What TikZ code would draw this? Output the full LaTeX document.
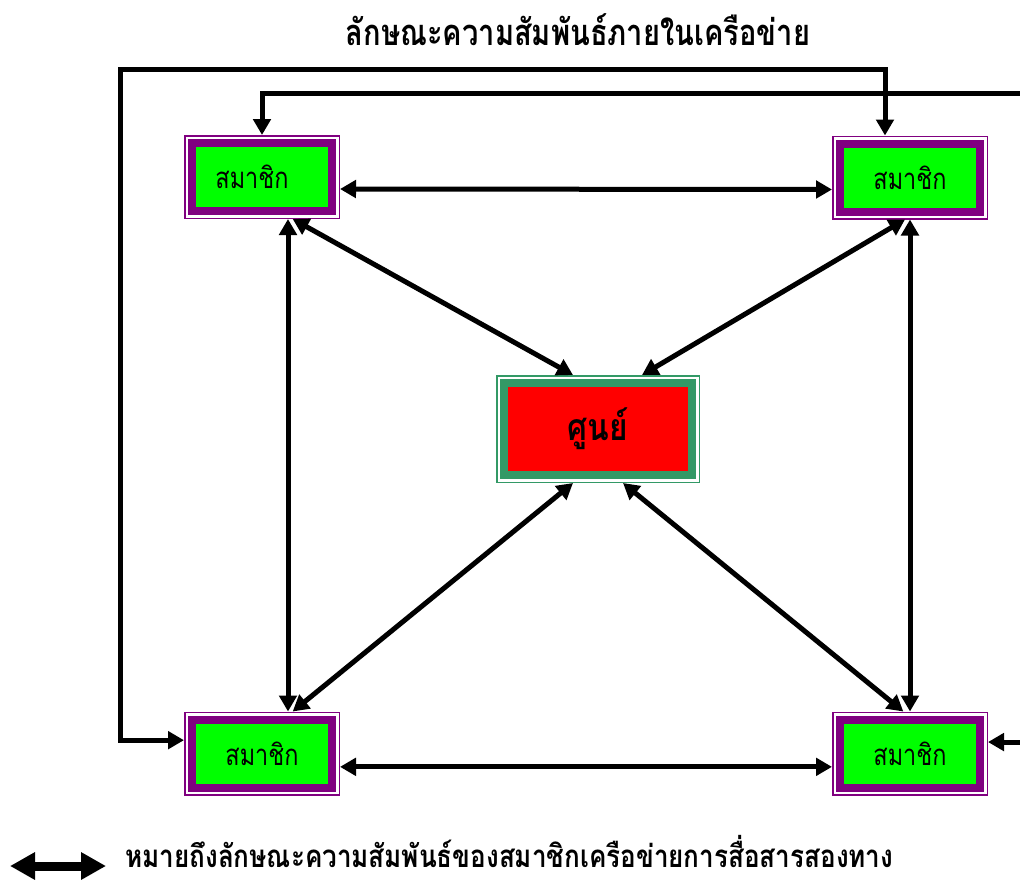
\documentclass[tikz,border=0pt]{standalone}
\usepackage{fontspec}
\newfontfamily\thaifont[Script=Thai]{Loma}
\usetikzlibrary{arrows.meta}
\definecolor{mpurple}{HTML}{800080}
\definecolor{mgreen}{HTML}{00FF00}
\definecolor{cgreen}{HTML}{339966}
\definecolor{cred}{HTML}{FF0000}
\newcommand\memtext[1]{\scalebox{0.8}[1]{#1}}
\newcommand\ctrtext[1]{\scalebox{0.85}[1]{#1}}
\begin{document}
\begin{tikzpicture}[x=0.75pt,y=-0.75pt,
  member/.style={rectangle, inner sep=0pt, minimum width=105pt, minimum height=51pt,
    fill=mgreen, draw=mpurple, line width=6pt, outer sep=6pt,
    preaction={draw=mpurple, line width=12pt},
    preaction={draw=white, line width=9.75pt},
    font=\thaifont\fontsize{22}{26}\selectfont},
  centre/.style={rectangle, inner sep=0pt, minimum width=141pt, minimum height=69pt,
    fill=cred, draw=cgreen, line width=6pt, outer sep=6pt,
    preaction={draw=cgreen, line width=12pt},
    preaction={draw=white, line width=9.75pt},
    font=\thaifont\bfseries\fontsize{28}{32}\selectfont},
  conn/.style={draw=black, line width=3.75pt, line join=miter,
    {Triangle[length=12pt,width=13pt]}-{Triangle[length=12pt,width=13pt]}},
  legarrow/.style={draw=black, line width=6.75pt,
    {Triangle[length=18.75pt,width=19.5pt]}-{Triangle[length=18.75pt,width=19.5pt]}},
  txt/.style={inner sep=0pt, font=\thaifont\bfseries\fontsize{20}{24}\selectfont}
]
\useasboundingbox (0,0) rectangle (1020,879);
\clip (0,0) rectangle (1020,879);

% nodes
\node[member] (tl) at (262,177) {\memtext{สมาชิก}\hspace*{15pt}};
\node[member] (tr) at (910,177.5) {\memtext{สมาชิก}};
\node[member] (bl) at (262,753.5) {\memtext{สมาชิก}};
\node[member] (br) at (910,753.5) {\memtext{สมาชิก}};
\node[centre] (c) at (598,429) {\ctrtext{ศูนย์}};

% title and legend
\node[txt, anchor=base] (title) at (578,45) {\scalebox{1}[1.25]{\resizebox{348pt}{!}{ลักษณะความสัมพันธ์ภายในเครือข่าย}}};
\node[txt, anchor=base west] (legend) at (125,867) {\scalebox{1}[1.2]{\resizebox{576pt}{!}{หมายถึงลักษณะความสัมพันธ์ของสมาชิกเครือข่ายการสื่อสารสองทาง}}};

% corner coordinates of the loops
\coordinate (loopA) at (120,69);
\coordinate (loopB) at (1035,93);

% connectors
\draw[conn] ([yshift=-9pt]tl.east) -- ([yshift=-9pt]tr.west);
\draw[conn] ([yshift=-10pt]bl.east) -- ([yshift=-10pt]br.west);
\draw[conn] ([xshift=19.5pt]tl.south) -- ([xshift=19.5pt]bl.north);
\draw[conn] (tr.south) -- (br.north);
\draw[conn] ([xshift=23pt]tl.south) -- ([xshift=-18.75pt]c.north);
\draw[conn] ([xshift=-3.75pt]tr.south) -- ([xshift=33pt]c.north);
\draw[conn] ([xshift=23pt]bl.north) -- ([xshift=-18.75pt]c.south);
\draw[conn] ([xshift=-5pt]br.north) -- ([xshift=18.75pt]c.south);
\draw[conn] ([yshift=10pt]bl.west) -| (loopA) -| ([xshift=-18.75pt]tr.north);
\draw[conn] (tl.north) |- (loopB) |- ([yshift=8.6pt]br.east);

% legend arrow
\coordinate (la) at (10,866);
\coordinate (lb) at (106,866);
\draw[legarrow] (la) -- (lb);
\end{tikzpicture}
\end{document}
